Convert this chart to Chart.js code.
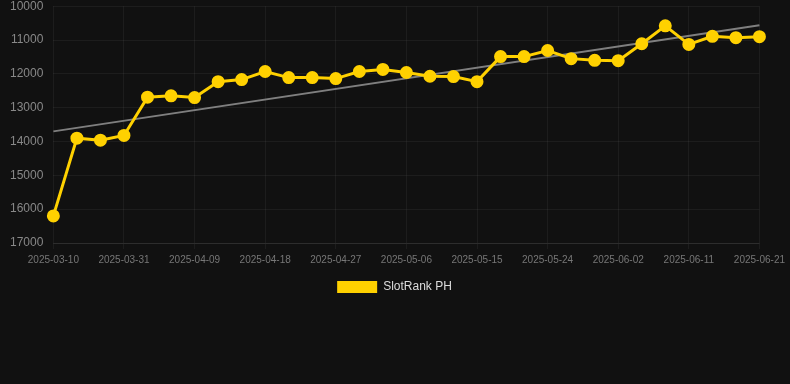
<!DOCTYPE html>
<html><head><meta charset="utf-8">
<script src="https://cdn.jsdelivr.net/npm/chart.js@4/dist/chart.umd.min.js"></script>
<style>html,body{margin:0;padding:0;background:#111111;overflow:hidden;}#wrap{position:relative;top:-11px;width:790px;height:395px;}</style>
</head><body><div id="wrap"><canvas id="c"></canvas></div>
<script>
const dates = ["2025-03-10","2025-03-25","2025-03-28","2025-03-31","2025-04-03","2025-04-06","2025-04-09","2025-04-12","2025-04-15","2025-04-18","2025-04-21","2025-04-24","2025-04-27","2025-04-30","2025-05-03","2025-05-06","2025-05-09","2025-05-12","2025-05-15","2025-05-18","2025-05-21","2025-05-24","2025-05-27","2025-05-30","2025-06-02","2025-06-05","2025-06-08","2025-06-11","2025-06-15","2025-06-18","2025-06-21"];
const rankValues = [16200,13900,13960,13820,12690,12650,12700,12230,12170,11930,12110,12110,12140,11930,11870,11960,12070,12080,12230,11490,11490,11310,11550,11600,11610,11110,10580,11130,10890,10930,10900];
const trendValues = [13700,null,null,null,null,null,null,null,null,null,null,null,null,null,null,null,null,null,null,null,null,null,null,null,null,null,null,null,null,null,10560];
const yTicks = [10000,11000,12000,13000,14000,15000,16000,17000];

new Chart(document.getElementById('c'), {
  type: 'line',
  data: {
    labels: dates,
    datasets: [
      {label: 'SlotRank PH', data: rankValues, borderColor: '#FFD100', backgroundColor: '#FFD100', borderWidth: 3, pointRadius: 5, pointHoverRadius: 5, tension: 0},
      {label: 'trend', data: trendValues, borderColor: 'rgba(140,140,140,0.9)', borderWidth: 2, pointRadius: 0, spanGaps: true, tension: 0}
    ]
  },
  options: {
    responsive: true, maintainAspectRatio: false, animation: false,
    layout: {padding: {left: 0, right: 1, top: 0, bottom: 81}},
    plugins: {
      legend: {position: 'bottom', labels: {color: '#dddddd', font: {family: 'Liberation Sans, Arial', size: 12}, boxWidth: 40, boxHeight: 12,
        filter: i => i.text !== 'trend',
        generateLabels: ch => Chart.defaults.plugins.legend.labels.generateLabels(ch).map(l => Object.assign(l, {lineWidth: 0}))}},
      tooltip: {enabled: false}
    },
    scales: {
      x: {
        offset: false,
        grid: {color: 'rgba(255,255,255,0.05)', tickLength: 6},
        border: {color: 'rgba(255,255,255,0.08)'},
        ticks: {color: '#777777', font: {family: 'Liberation Sans, Arial', size: 10}, maxRotation: 0, autoSkip: false, padding: 5,
          callback: function(v, i) { return i % 3 === 0 ? dates[i] : null; }}
      },
      y: {
        reverse: true, min: yTicks[0], max: yTicks[yTicks.length-1],
        afterBuildTicks: ax => { ax.ticks = yTicks.map(v => ({value: v})); },
        grid: {color: 'rgba(255,255,255,0.05)', drawTicks: false},
        border: {display: false},
        ticks: {color: '#888888', font: {family: 'Liberation Sans, Arial', size: 12}, padding: 10, callback: v => String(v)}
      }
    }
  }
});
</script></body></html>
